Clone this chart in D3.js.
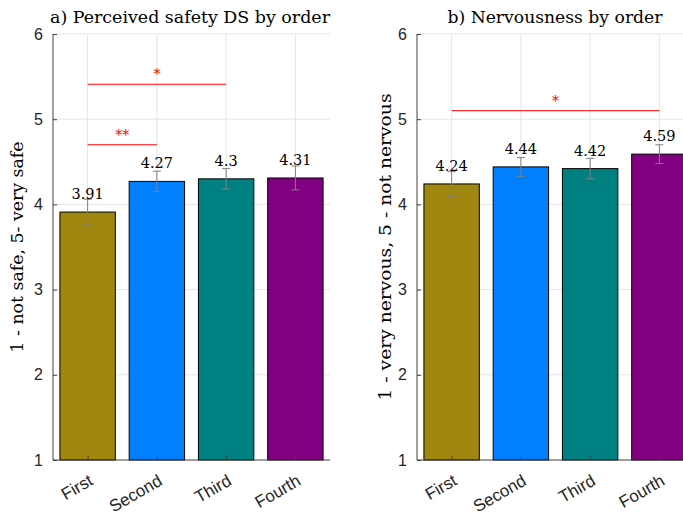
<!DOCTYPE html>
<html><head><meta charset="utf-8">
<script src="https://cdn.jsdelivr.net/npm/d3@7"></script>
<style>body{margin:0;background:#fff}svg{display:block}</style>
</head><body>
<svg id="c" width="683" height="515"></svg>
<script>
const categories = ["First", "Second", "Third", "Fourth"];
const colors = ["#A08710", "#0080FF", "#008080", "#800080"];
const yTicks = [1, 2, 3, 4, 5, 6];

const safetyMeans = [3.91, 4.27, 4.30, 4.31];
const safetyErr = [0.15, 0.12, 0.12, 0.14];
const safetyLabels = ["3.91", "4.27", "4.3", "4.31"];
const safetySig = [{from: 1, to: 2, y: 4.70, text: "**"}, {from: 1, to: 3, y: 5.41, text: "*"}];

const nervMeans = [4.24, 4.44, 4.42, 4.59];
const nervErr = [0.145, 0.11, 0.12, 0.11];
const nervLabels = ["4.24", "4.44", "4.42", "4.59"];
const nervSig = [{from: 1, to: 4, y: 5.10, text: "*"}];

const svg = d3.select("#c");
const serif = "'DejaVu Serif', 'Liberation Serif', serif";
const sans = "'Liberation Sans', Arial, sans-serif";

function panel(o) {
  const x = d3.scaleLinear().domain([0.5, 4.5]).range([o.left, o.left + 277]);
  const y = d3.scaleLinear().domain([1, 6]).range([460, 34]);
  const g = svg.append("g");
  // grid
  g.selectAll(".gy").data(yTicks.slice(1)).join("line")
    .attr("x1", x(0.5)).attr("x2", x(4.5)).attr("y1", d => y(d)).attr("y2", d => y(d))
    .attr("stroke", "#e5e5e5").attr("stroke-width", 1);
  g.selectAll(".gx").data(categories).join("line")
    .attr("x1", (d, i) => x(i + 1)).attr("x2", (d, i) => x(i + 1)).attr("y1", y(1)).attr("y2", y(6))
    .attr("stroke", "#e5e5e5").attr("stroke-width", 1);
  // bars
  const bw = (x(2) - x(1)) * 0.8;
  g.selectAll(".bar").data(o.means).join("rect")
    .attr("x", (d, i) => x(i + 1) - bw / 2).attr("width", bw)
    .attr("y", d => y(d)).attr("height", d => y(1) - y(d))
    .attr("fill", (d, i) => colors[i]).attr("stroke", "#000").attr("stroke-width", 1);
  // error bars
  o.means.forEach((m, i) => {
    const cx = x(i + 1), t = y(m + o.err[i]), b = y(m - o.err[i]);
    const eg = g.append("g").attr("stroke", "#808080").attr("stroke-width", 1);
    eg.append("line").attr("x1", cx).attr("x2", cx).attr("y1", t).attr("y2", b);
    eg.append("line").attr("x1", cx - 4).attr("x2", cx + 4).attr("y1", t).attr("y2", t);
    eg.append("line").attr("x1", cx - 4).attr("x2", cx + 4).attr("y1", b).attr("y2", b);
  });
  // value labels
  g.selectAll(".vl").data(o.labels).join("text")
    .attr("x", (d, i) => x(i + 1)).attr("y", (d, i) => y(o.means[i]) - 13)
    .attr("text-anchor", "middle").attr("font-family", serif).attr("font-size", 14.5)
    .attr("fill", "#000").text(d => d);
  // significance
  o.sig.forEach(s => {
    g.append("line").attr("x1", x(s.from)).attr("x2", x(s.to)).attr("y1", y(s.y)).attr("y2", y(s.y))
      .attr("stroke", "#FF0000").attr("stroke-width", 1);
    g.append("text").attr("x", (x(s.from) + x(s.to)) / 2).attr("y", y(s.y) - 5)
      .attr("text-anchor", "middle").attr("font-family", serif).attr("font-size", 14)
      .attr("fill", "#FF0000").text(s.text);
  });
  // axes
  const ya = d3.axisLeft(y).tickValues(yTicks).tickSize(-4).tickPadding(10).tickFormat(d3.format("d"));
  const yg = g.append("g").attr("transform", `translate(${o.left},0)`).call(ya);
  yg.select(".domain").attr("stroke", "#404040").attr("d", `M0,${y(6)}V${y(1)}`);
  yg.selectAll(".tick line").attr("stroke", "#404040");
  yg.selectAll("text").attr("font-family", sans).attr("font-size", 16).attr("fill", "#262626");
  const xa = d3.axisBottom(x).tickValues([1, 2, 3, 4]).tickSize(-4).tickPadding(8).tickFormat(d => categories[d - 1]);
  const xg = g.append("g").attr("transform", `translate(0,${y(1)})`).call(xa);
  xg.select(".domain").attr("stroke", "#404040").attr("d", `M${x(0.5)},0H${x(4.5)}`);
  xg.selectAll(".tick line").attr("stroke", "#404040");
  xg.selectAll("text").attr("font-family", sans).attr("font-size", 17).attr("fill", "#262626")
    .attr("text-anchor", "end").attr("dy", null)
    .attr("transform", "translate(6,24) rotate(-30)").attr("y", 0).attr("x", 0);
  // title
  svg.append("text").attr("x", o.titleX).attr("y", 23).attr("text-anchor", "middle")
    .attr("font-family", serif).attr("font-size", 17).attr("fill", "#000")
    .attr("textLength", o.titleW).attr("lengthAdjust", "spacingAndGlyphs").text(o.title);
  // y label
  svg.append("text").attr("transform", `translate(${o.ylabX},247) rotate(-90)`)
    .attr("text-anchor", "middle").attr("font-family", serif).attr("font-size", 16).attr("fill", "#000")
    .attr("textLength", o.ylabW).attr("lengthAdjust", "spacingAndGlyphs").text(o.ylabel);
}

panel({left: 53, means: safetyMeans, err: safetyErr, labels: safetyLabels, sig: safetySig,
  title: "a) Perceived safety DS by order", titleX: 190, titleW: 280,
  ylabel: "1 - not safe, 5- very safe", ylabX: 23, ylabW: 211});
panel({left: 417, means: nervMeans, err: nervErr, labels: nervLabels, sig: nervSig,
  title: "b) Nervousness by order", titleX: 555, titleW: 215,
  ylabel: "1 - very nervous, 5 - not nervous", ylabX: 391, ylabW: 307});
</script>
</body></html>
